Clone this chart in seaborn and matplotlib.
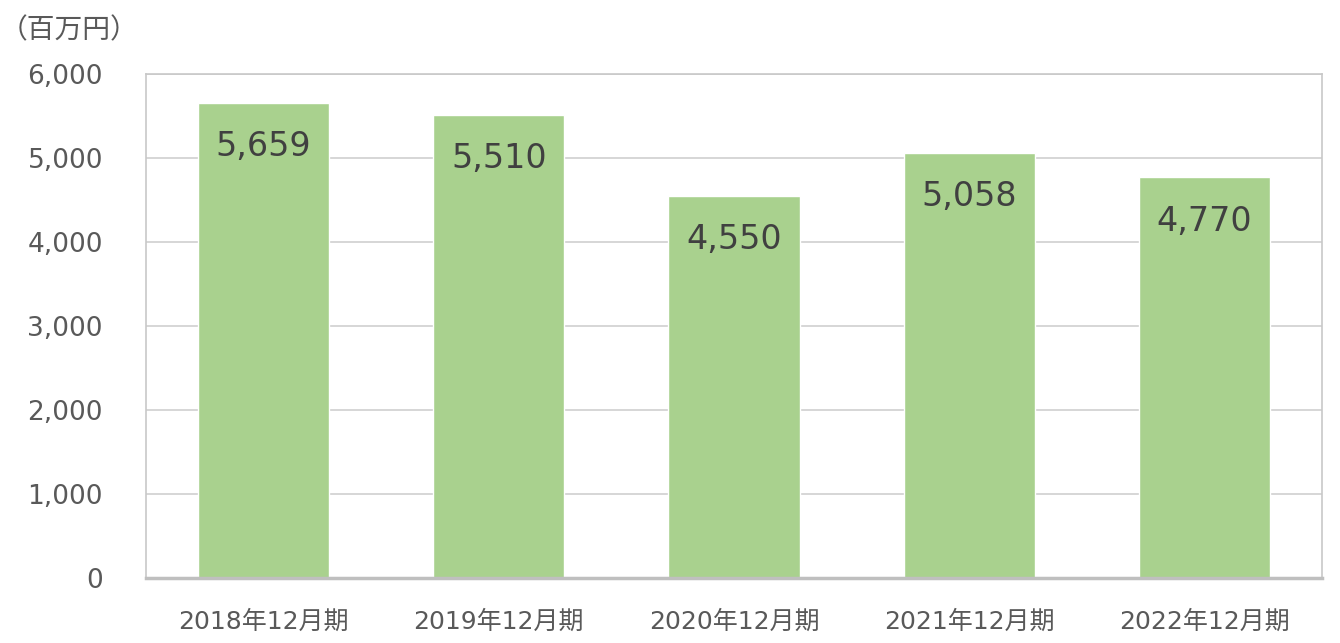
import matplotlib
matplotlib.use('Agg')
import matplotlib.pyplot as plt
import seaborn as sns
import pandas as pd

# datos del gráfico
periodos = ['2018年12月期', '2019年12月期', '2020年12月期', '2021年12月期', '2022年12月期']
ventas = [5659, 5510, 4550, 5058, 4770]
marcas_y = [0, 1000, 2000, 3000, 4000, 5000, 6000]
unidad = '（百万円）'

df = pd.DataFrame({'periodo': periodos, 'ventas': ventas})

sns.set_style('white')
plt.rcParams['font.family'] = ['DejaVu Sans', 'Noto Sans CJK JP']

fig = plt.figure(figsize=(13.4, 6.43), dpi=100)
ax = fig.add_axes([146 / 1340, 1 - 578 / 643, 1176 / 1340, 504 / 643])

sns.barplot(data=df, x='periodo', y='ventas', color='#a9d18e',
            saturation=1, width=0.557, ax=ax, zorder=2)

ax.set_xlim(-0.5, 4.5)
ax.set_ylim(0, 6000)
ax.set_yticks(marcas_y)
ax.set_yticklabels([f'{v:,}' for v in marcas_y])
ax.set_xlabel('')
ax.set_ylabel('')

ax.yaxis.grid(True, color='#cfcfcf', linewidth=1.2, zorder=0)
ax.set_axisbelow(True)
for lado in ['left', 'top', 'right']:
    ax.spines[lado].set_color('#c8c8c8')
    ax.spines[lado].set_linewidth(1.2)
ax.spines['bottom'].set_color('#bfbfbf')
ax.spines['bottom'].set_linewidth(2.5)

ax.tick_params(axis='y', length=0, pad=31, labelsize=19, labelcolor='#595959')
ax.tick_params(axis='x', length=0, pad=23, labelsize=18, labelcolor='#595959')

# etiquetas dentro de las barras
for i, v in enumerate(ventas):
    ax.text(i, v - 520, f'{v:,}', ha='center', va='center',
            fontsize=24, color='#404040')

fig.text(0.0, 1 - 30 / 643, unidad, ha='left', va='center',
         fontsize=20, color='#595959', family=['Noto Sans CJK JP'])

fig.savefig('out.png', dpi=100)
